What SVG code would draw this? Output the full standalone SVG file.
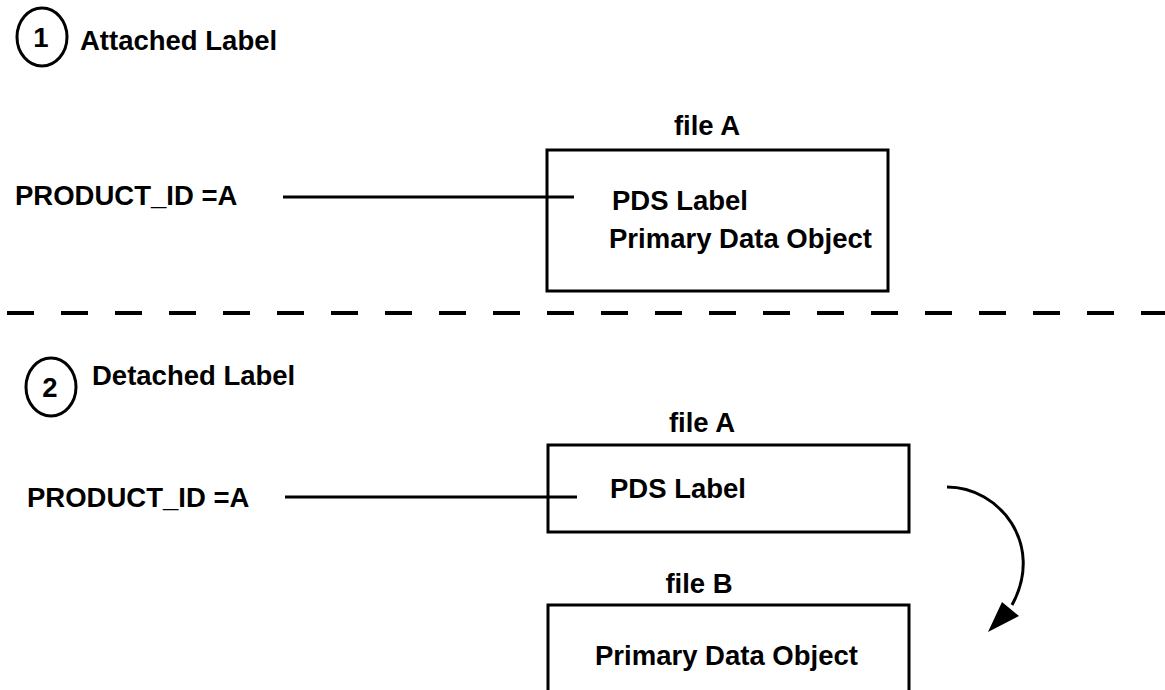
<svg xmlns="http://www.w3.org/2000/svg" width="1165" height="690" viewBox="0 0 1165 690">
<style>
text{font-family:"Liberation Sans",Arial,sans-serif;font-weight:bold;fill:#000;font-size:27.5px}
.box{fill:none;stroke:#000;stroke-width:3}
.ln{stroke:#000;stroke-width:3;fill:none}
</style>
<rect width="1165" height="690" fill="#fff"/>
<g id="section1">
<ellipse cx="42" cy="37" rx="25" ry="29" class="box"/>
<text x="41" y="47" text-anchor="middle">1</text>
<text x="80" y="50">Attached Label</text>
</g>
<g id="product1"><text x="15" y="205">PRODUCT_ID =A</text></g>
<g id="fileA1">
<text x="707" y="135" text-anchor="middle">file A</text>
<rect x="547" y="150" width="341" height="141" class="box"/>
<text x="612" y="210">PDS  Label</text>
<text x="609" y="248">Primary Data Object</text>
</g>
<g id="divider"><line x1="7" y1="313" x2="1165" y2="313" stroke="#000" stroke-width="4" stroke-dasharray="27 27"/></g>
<g id="section2">
<ellipse cx="51" cy="387" rx="25" ry="29" class="box"/>
<text x="50" y="397" text-anchor="middle">2</text>
<text x="92" y="385">Detached Label</text>
</g>
<g id="product2"><text x="27" y="507">PRODUCT_ID =A</text></g>
<g id="fileA2">
<text x="702" y="432" text-anchor="middle">file A</text>
<rect x="548" y="445" width="361" height="87" class="box"/>
<text x="610" y="498">PDS Label</text>
</g>
<g id="fileB">
<text x="699" y="593" text-anchor="middle">file B</text>
<rect x="548" y="605" width="361" height="100" class="box"/>
<text x="595" y="665">Primary Data Object</text>
</g>
<g id="connectors">
<line x1="283" y1="197" x2="574" y2="197" class="ln"/>
<line x1="285" y1="497" x2="577" y2="497" class="ln"/>
<path d="M947 487 C1000 487 1045 545 1012 605" class="ln"/>
<polygon points="988,632 1002,602 1019,616" fill="#000"/>
</g>
</svg>
